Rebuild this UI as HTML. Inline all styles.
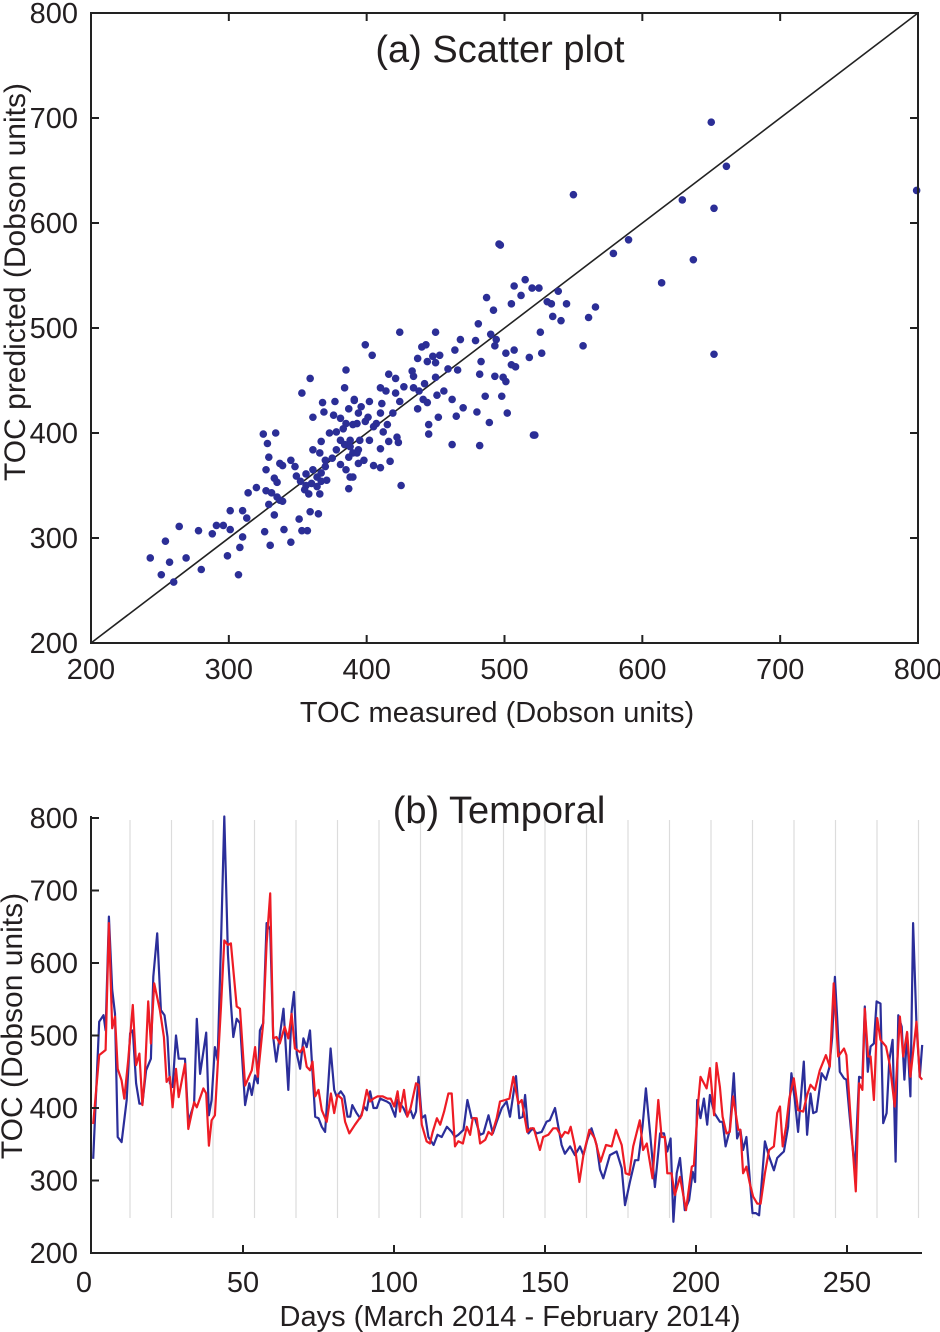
<!DOCTYPE html>
<html><head><meta charset="utf-8"><style>
html,body{margin:0;padding:0;background:#fff;}
svg{display:block;font-family:"Liberation Sans",sans-serif;}
</style></head><body>
<svg id="chart" width="940" height="1332" viewBox="0 0 940 1332">
<g id="scatter"></g>
<g id="temporal"></g>
</svg>
<script>
// ---------- Scatter data ----------
const scatterMeasured = [243,251,260,257,254,269,280,264,278,288,291,296,301,299,307,308,310,301,310,313,314,320,326,330,333,329,327,331,335,337,339,333,335,327,329,328,325,334,337,339,345,348,349,352,356,356,355,358,366,359,365,351,353,357,340,345,353,359,361,368,369,377,385,384,391,387,376,381,385,383,393,373,378,367,361,366,370,375,381,384,388,390,378,387,381,385,388,387,361,364,367,370,371,360,364,367,394,395,394,
497,515,507,520,525,539,512,487,505,531,534,545,492,535,541,481,424,450,490,494,468,479,399,440,443,493,464,501,507,526,527,518,404,437,448,453,444,450,483,505,508,459,466,433,416,421,434,450,482,493,499,501,442,410,427,434,438,421,451,456,486,498,414,424,441,444,462,470,437,391,402,411,396,410,419,480,502,452,465,445,445,489,522,390,399,407,415,402,416,423,422,410,462,482,394,398,417,405,410,390,425,388,393,405,401,412,
550,496,629,650,661,652,799,637,614,590,579,652,557,566,561,521];
const scatterPredicted = [281,265,258,277,297,281,270,311,307,304,312,312,308,283,265,291,301,326,326,319,343,348,306,293,322,332,345,343,339,336,335,357,353,365,377,390,399,400,371,369,374,368,359,354,361,350,346,342,342,325,323,318,307,307,308,296,438,452,415,429,420,430,460,443,432,423,417,414,409,404,409,400,401,392,384,381,374,376,393,389,387,381,384,377,370,365,358,347,365,358,362,368,355,352,349,354,371,393,419,
579,546,540,538,538,535,531,529,523,525,523,523,517,511,507,504,496,496,494,489,489,488,484,482,484,483,479,476,479,496,476,472,474,471,473,474,468,467,468,465,463,461,460,459,456,452,454,453,456,454,453,449,447,443,444,443,440,438,436,440,435,435,440,430,432,429,432,424,423,431,430,428,425,419,419,420,419,415,416,408,399,410,398,408,411,409,408,393,392,391,396,385,389,388,384,374,373,369,367,358,350,393,381,406,415,401,
627,580,622,696,654,614,631,565,543,584,571,475,483,520,510,398];
const scatterTicks = [200,300,400,500,600,700,800];

// ---------- Temporal data ----------
const blueDays = [0.4,2.4,3.8,4.5,5.6,6.7,7.6,8.5,9.8,11.5,12.6,13.5,14.6,15.7,16.7,17.9,19.5,20.3,21.6,22.8,24,25,25.8,26.7,27.8,28.7,30.8,31.9,33.8,34.7,35.8,37.8,38.7,39.6,40.7,41.6,42.7,43.8,45,46,46.8,47.9,49,50.7,52.1,52.9,54,54.9,55.6,56.7,57.8,59,60,61,63.4,65,66.1,66.9,67.8,68.9,70,71.1,72.2,
73.9,75,76.1,77.2,79,80.2,81,82.4,83.5,84.6,85.5,86.2,87.6,88.8,90.1,91,92.1,93.2,94.3,95.4,97.6,98.7,100.4,101.1,103.1,104.2,105.5,106.4,107.3,108.1,109.2,110.3,111.4,113.1,114.4,115.8,117.5,119.1,120.2,121.3,123,124.3,125.7,126.8,128.5,129.6,131.3,132.7,134,135.7,137.3,138.4,140.4,141.5,
142.6,143.4,144.5,145.9,147.2,148.9,150.5,151.6,153.3,155.5,156.6,158.3,159.9,161.6,162.7,164,165.4,167.1,168.2,169.3,171.5,173.7,175.4,176.5,178.1,179.8,180.9,182.3,183.4,184.8,186.4,188.1,189.4,190.5,191.6,192.5,193.6,194.7,196.3,197.7,198.9,199.7,200.4,201.5,202.6,203.7,204.6,206.1,
207.9,208.8,209.8,211.2,212.5,213.6,214.7,215.6,216.7,218.7,219.8,220.9,222.8,224.2,225.8,226.9,228.3,229.1,230.5,231.6,232.7,233.8,235.7,236.8,237.9,238.8,239.9,241.6,243,244.1,245.1,246,246.8,247.6,249,249.8,250.9,252.6,254,255.1,255.9,256.9,257.8,258.9,259.8,261.1,262,263.1,264,265.1,266.1,267,268.1,269,269.9,271,271.9,273,274.1,274.9];
const blueValues = [330,519,528,507,664,563,530,360,353,411,503,507,434,406,406,452,468,581,641,535,528,498,434,429,500,468,468,381,406,523,447,504,390,411,484,466,627,802,613,544,498,523,517,404,434,418,445,434,507,517,655,646,498,464,537,425,533,560,475,454,496,484,507,
388,386,374,367,482,425,416,423,416,388,388,404,393,386,402,397,423,400,400,413,409,406,388,411,400,390,397,386,395,443,386,390,360,349,363,360,374,367,360,363,370,411,386,386,363,365,390,365,381,400,409,388,444,386,
388,418,365,372,365,367,381,383,400,349,337,347,335,347,335,356,372,349,315,303,335,340,317,266,298,328,328,374,427,365,291,365,365,340,358,243,310,331,259,273,312,298,411,386,413,377,418,393,
381,381,347,370,448,358,370,342,360,255,255,252,354,333,314,331,337,340,374,448,411,367,464,363,420,393,395,448,439,455,498,581,521,450,441,439,388,314,443,441,540,450,485,489,547,544,379,393,466,494,326,528,512,439,503,416,655,514,443,487];
const redDays = [0.4,2.4,4.5,5.6,6.7,7.6,8.5,9.8,10.7,12,13.5,14.6,15.7,16.7,17.5,18.6,19.5,20.6,22.5,23.8,24.7,25.8,26.7,27.8,28.7,30.8,31.9,33.8,34.7,36.9,37.8,38.7,39.6,40.7,42.7,43.8,45,46,47.9,49,50.7,52.9,54,54.9,56.7,57.8,59,60,61.1,62.2,63.8,65,66.1,67.2,68.9,70,71.1,72.2,
73,73.9,75,76.1,77.7,79.1,80.2,81.3,82.7,83.8,85.2,87.1,89.3,91,92.1,93.2,94.5,96.3,97.8,98.9,100.1,101.2,102,103.3,104.4,105.5,107.3,108.1,109.2,110.8,111.9,112.8,114.2,115.3,116.6,118,119.1,120.2,121.3,122.8,124.1,125.2,126.1,127.4,128.5,130.2,131.3,132.4,134,135.1,136.8,138.2,139.5,141.2,
142.3,144.1,145.2,146.3,148.3,149.4,151.1,152.7,153.9,155.5,156.6,157.7,158.5,159.9,161.4,162.7,164.7,166.5,168.4,170.2,172.1,173.5,175.4,176.7,177.9,179.2,181.4,182.5,183.7,185.6,187.5,188.6,189.7,190.5,191.9,193,194.7,196.7,198.6,199.3,200.8,201.5,203.5,204.6,206,206.8,
207.9,208.8,210.1,211.2,212.3,214,214.7,215.6,216.7,217.8,218.9,220.3,221.4,222.8,224.2,225.8,226.9,227.8,228.7,229.8,230.9,232.4,233.8,235.5,236.8,237.9,239.4,241,243,244.3,245.6,247.1,249,249.8,251.2,252.9,254,255.1,255.9,257,257.8,258.9,260,261.1,262.9,264.2,265.8,267.5,268.6,269.9,271,273,274.1,274.9];
const redValues = [378,473,480,655,510,526,454,438,413,466,542,459,475,404,443,547,489,572,535,498,436,443,401,454,415,461,371,408,401,427,420,348,383,390,540,631,625,627,540,537,431,452,484,443,517,627,696,496,498,489,512,496,530,482,477,484,457,452,
464,416,425,397,381,420,393,418,413,381,365,377,390,425,409,413,416,416,413,413,402,423,395,425,388,400,434,432,377,354,351,367,386,377,395,420,420,347,354,351,374,363,386,386,351,356,367,363,386,409,411,413,443,406,
411,367,372,372,342,360,363,372,372,360,367,365,374,347,298,335,370,358,326,349,347,370,349,310,308,347,383,342,351,303,411,360,360,310,310,280,305,259,319,321,411,443,427,455,390,462,
429,388,365,367,416,370,370,310,319,296,278,268,268,310,342,347,393,402,347,374,413,441,397,395,418,432,425,452,473,457,572,471,482,473,386,285,434,425,537,471,471,411,524,494,485,459,402,526,471,505,443,519,443,439];
const tempYTicks = [200,300,400,500,600,700,800];
const tempXTicks = [0,50,100,150,200,250];

const NS = "http://www.w3.org/2000/svg";
function mk(parent, tag, attrs, text) {
  const e = document.createElementNS(NS, tag);
  for (const k in attrs) e.setAttribute(k, attrs[k]);
  if (text !== undefined) e.textContent = text;
  parent.appendChild(e);
  return e;
}

// ----- Scatter panel -----
(function () {
  const g = document.getElementById('scatter');
  const L = 91, R = 918, T = 13, B = 643;
  const sx = v => L + (v - 200) / 600 * (R - L);
  const sy = v => B - (v - 200) / 600 * (B - T);
  const diag = mk(g, 'line', {x1: sx(200), y1: sy(200), x2: sx(800), y2: sy(800), stroke: '#222', 'stroke-width': 1.6});
  
  
  for (let i = 0; i < scatterMeasured.length; i++) {
    const c = mk(g, 'circle', {cx: sx(scatterMeasured[i]), cy: sy(scatterPredicted[i]), r: 3.8, fill: '#2b2e96'});
    
    
  }
  const fr = mk(g, 'rect', {x: L, y: T, width: R - L, height: B - T, fill: 'none', stroke: '#222', 'stroke-width': 2});
  
  
  scatterTicks.forEach(v => {
    mk(g, 'line', {x1: L, x2: L + 8, y1: sy(v), y2: sy(v), stroke: '#222', 'stroke-width': 2});
    mk(g, 'line', {x1: R, x2: R - 8, y1: sy(v), y2: sy(v), stroke: '#222', 'stroke-width': 2});
    mk(g, 'line', {x1: sx(v), x2: sx(v), y1: B, y2: B - 8, stroke: '#222', 'stroke-width': 2});
    mk(g, 'line', {x1: sx(v), x2: sx(v), y1: T, y2: T + 8, stroke: '#222', 'stroke-width': 2});
    const yl = mk(g, 'text', {x: 78, y: sy(v) + 10, 'font-size': 29, 'text-anchor': 'end', fill: '#231f20'}, v);
    
    
    const xl = mk(g, 'text', {x: sx(v), y: 679, 'font-size': 29, 'text-anchor': 'middle', fill: '#231f20'}, v);
    
    
  });
  const t = mk(g, 'text', {x: 500, y: 62, 'font-size': 38, 'text-anchor': 'middle', fill: '#231f20'}, '(a) Scatter plot');
  
  
  const xt = mk(g, 'text', {x: 497, y: 722, 'font-size': 29, 'text-anchor': 'middle', fill: '#231f20'}, 'TOC measured (Dobson units)');
  
  
  const yt = mk(g, 'text', {x: 0, y: 0, 'font-size': 30, 'text-anchor': 'middle', fill: '#231f20', transform: 'translate(25,282) rotate(-90)'}, 'TOC predicted (Dobson units)');
  
  
})();

// ----- Temporal panel -----
(function () {
  const g = document.getElementById('temporal');
  const L = 92, B = 1253, T = 818;
  const sx = d => L + d * 3.02;
  const sy = v => B - (v - 200) / 600 * (B - T);
  for (let k = 0; k < 20; k++) {
    const x = 130 + k * 41.5;
    if (x > 924) break;
    const gl = mk(g, 'line', {x1: x, x2: x, y1: 820, y2: 1218, stroke: '#dcdcdc', 'stroke-width': 1.2});
    
    
  }
  function series(days, vals, color, name) {
    const n = Math.min(days.length, vals.length);
    const pts = [];
    for (let i = 0; i < n; i++) pts.push(sx(days[i]).toFixed(1) + ',' + sy(vals[i]).toFixed(1));
    const p = mk(g, 'polyline', {points: pts.join(' '), fill: 'none', stroke: color, 'stroke-width': 2.2, 'stroke-linejoin': 'round'});
    
    
  }
  series(blueDays, blueValues, '#2b2e9a', 'measured-line');
  series(redDays, redValues, '#ee1c25', 'predicted-line');
  const ya = mk(g, 'line', {x1: L - 1, x2: L - 1, y1: T - 2, y2: B + 1, stroke: '#222', 'stroke-width': 2});
  
  
  const xa = mk(g, 'line', {x1: L - 2, x2: 922, y1: B, y2: B, stroke: '#222', 'stroke-width': 2});
  
  
  tempYTicks.forEach(v => {
    mk(g, 'line', {x1: L, x2: L + 7, y1: sy(v), y2: sy(v), stroke: '#222', 'stroke-width': 2});
    const yl = mk(g, 'text', {x: 78, y: sy(v) + 10, 'font-size': 29, 'text-anchor': 'end', fill: '#231f20'}, v);
    
    
  });
  tempXTicks.forEach(d => {
    if (d > 0) mk(g, 'line', {x1: sx(d), x2: sx(d), y1: B, y2: B - 8, stroke: '#222', 'stroke-width': 2});
    const xl = mk(g, 'text', {x: d === 0 ? 84 : sx(d), y: 1292, 'font-size': 29, 'text-anchor': 'middle', fill: '#231f20'}, d);
    
    
  });
  const t = mk(g, 'text', {x: 499, y: 823, 'font-size': 38, 'text-anchor': 'middle', fill: '#231f20'}, '(b) Temporal');
  
  
  const xt = mk(g, 'text', {x: 510, y: 1326, 'font-size': 29, 'text-anchor': 'middle', fill: '#231f20'}, 'Days (March 2014 - February 2014)');
  
  
  const yt = mk(g, 'text', {x: 0, y: 0, 'font-size': 30, 'text-anchor': 'middle', fill: '#231f20', transform: 'translate(22,1026) rotate(-90)'}, 'TOC (Dobson units)');
  
  
})();
</script>
</body></html>
